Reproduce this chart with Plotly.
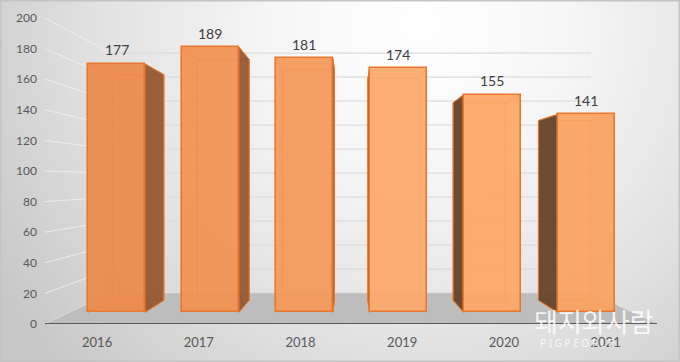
import base64
import plotly.graph_objects as go

# ---------------- data ----------------
years = ["2016", "2017", "2018", "2019", "2020", "2021"]
counts = [177, 189, 181, 174, 155, 141]
y_ticks = [0, 20, 40, 60, 80, 100, 120, 140, 160, 180, 200]

# ---------------- geometry / style constants ----------------
W, H = 680, 362
DOM_X0, DOM_X1 = 45, 657          # front floor edge (px)
DOM_Y0, DOM_Y1 = 18, 324          # value-axis span (px, top/bottom)
BAR0_PX, BAR_STEP = 116.5, 93.9   # front-plane bar centre / spacing (px)
FRONT_BASE, FRONT_K = 312.3, 1.403
VP_PX = (350, 181)                # vanishing point (px)
S_BACK, S_WALL, S_LABEL = 0.908, 0.785, 1.083
BAR_W = 57 / BAR_STEP

X_MIN = (DOM_X0 - BAR0_PX) / BAR_STEP
X_MAX = (DOM_X1 - BAR0_PX) / BAR_STEP
Y2_MIN = (FRONT_BASE - DOM_Y1) / FRONT_K
Y2_MAX = (FRONT_BASE - DOM_Y0) / FRONT_K
XV = (VP_PX[0] - BAR0_PX) / BAR_STEP
VV = (FRONT_BASE - VP_PX[1]) / FRONT_K

LX_MIN = XV + (X_MIN - XV) / S_LABEL
LX_MAX = XV + (X_MAX - XV) / S_LABEL

FRONT_COLORS = ["rgba(237,137,73,0.93)", "rgba(242,145,82,0.93)", "rgba(245,152,88,0.93)",
                "rgba(252,169,107,0.93)", "rgba(253,167,102,0.93)", "rgba(251,161,97,0.93)"]
EDGE = "#E8772F"
SIDE_RIGHT = "rgba(150,88,50,0.95)"
SIDE_LEFT = "rgba(104,70,45,0.97)"
FONT = "Lato"


def proj(x, v, s):
    return XV + s * (x - XV), VV + s * (v - VV)


def path(pts):
    return "M " + " L ".join(f"{x:.4f},{y:.4f}" for x, y in pts) + " Z"


shapes = []

# background wall gridlines (left wall slant + back wall)
for t in y_ticks:
    vf = Y2_MIN + (t - y_ticks[0]) / (y_ticks[-1] - y_ticks[0]) * (Y2_MAX - Y2_MIN)
    bl = proj(X_MIN, vf, S_WALL)
    br = proj(X_MAX, vf, S_WALL)
    shapes.append(dict(type="line", xref="x", yref="y2", x0=X_MIN, y0=vf, x1=bl[0], y1=bl[1],
                       line=dict(color="rgba(240,240,240,0.9)", width=1), layer="below"))
    shapes.append(dict(type="line", xref="x", yref="y2", x0=bl[0], y0=bl[1], x1=br[0], y1=br[1],
                       line=dict(color="#DCDCDC", width=1.3), layer="below"))

# floor
fl = [(X_MIN, Y2_MIN), proj(X_MIN, Y2_MIN, S_WALL), proj(X_MAX, Y2_MIN, S_WALL), (X_MAX, Y2_MIN)]
shapes.append(dict(type="path", xref="x", yref="y2", path=path(fl),
                   fillcolor="#BDBDBD", line=dict(width=0), layer="below"))
shapes.append(dict(type="line", xref="x", yref="y2", x0=X_MIN, y0=Y2_MIN, x1=X_MAX, y1=Y2_MIN,
                   line=dict(color="#5A5A5A", width=2.2), layer="below"))

# bar side faces and hidden edges
for i, v in enumerate(counts):
    xl, xr = i - BAR_W / 2, i + BAR_W / 2
    corners = {"tl": (xl, v), "tr": (xr, v), "br": (xr, 0), "bl": (xl, 0)}
    back = {k: proj(x, y, S_BACK) for k, (x, y) in corners.items()}
    for a, b in [("tl", "tr"), ("tr", "br"), ("br", "bl"), ("bl", "tl")]:
        shapes.append(dict(type="line", xref="x", yref="y2", x0=back[a][0], y0=back[a][1],
                           x1=back[b][0], y1=back[b][1], line=dict(color=EDGE, width=1), layer="below"))
    for k in corners:
        shapes.append(dict(type="line", xref="x", yref="y2", x0=corners[k][0], y0=corners[k][1],
                           x1=back[k][0], y1=back[k][1], line=dict(color=EDGE, width=1), layer="below"))
    if xr < XV:
        pts = [corners["tr"], back["tr"], back["br"], corners["br"]]
        shapes.append(dict(type="path", xref="x", yref="y2", path=path(pts), fillcolor=SIDE_RIGHT,
                           line=dict(color=EDGE, width=1), layer="below"))
    elif xl > XV:
        pts = [corners["tl"], back["tl"], back["bl"], corners["bl"]]
        shapes.append(dict(type="path", xref="x", yref="y2", path=path(pts), fillcolor=SIDE_LEFT,
                           line=dict(color=EDGE, width=1), layer="below"))

# thin border of the chart area
shapes.append(dict(type="rect", xref="paper", yref="paper", x0=0.001, y0=0.002, x1=0.999, y1=0.998,
                   line=dict(color="#C4C4C4", width=1.5), fillcolor="rgba(0,0,0,0)", layer="above"))

fig = go.Figure()
fig.add_trace(go.Bar(
    x=list(range(len(counts))), y=counts, xaxis="x", yaxis="y2", width=BAR_W,
    marker=dict(color=FRONT_COLORS, line=dict(color=EDGE, width=1.6)),
    hoverinfo="skip", showlegend=False,
))
fig.add_trace(go.Scatter(x=list(range(len(years))), y=[0] * len(years), xaxis="x2", yaxis="y",
                         mode="markers", marker=dict(opacity=0), hoverinfo="skip", showlegend=False))

annotations = []
for i, v in enumerate(counts):
    annotations.append(dict(x=i, y=v, xref="x", yref="y2", text=str(v), showarrow=False,
                            yanchor="middle", yshift=14,
                            font=dict(family=FONT, size=14, color="#404040")))

# watermark
annotations.append(dict(x=594 / W, y=1 - 320 / H, xref="paper", yref="paper", text="돼지와사람",
                        xanchor="center", yanchor="middle", showarrow=False,
                        font=dict(family="Noto Sans CJK KR", size=26, color="rgba(255,255,255,0.85)")))
annotations.append(dict(x=577 / W, y=1 - 343 / H, xref="paper", yref="paper",
                        text="P I G P E O P L E", xanchor="center", yanchor="middle", showarrow=False,
                        font=dict(family="Noto Sans", size=10, color="rgba(255,255,255,0.8)")))

svg = f'''<svg xmlns="http://www.w3.org/2000/svg" width="{W}" height="{H}">
<defs><radialGradient id="g" cx="420" cy="25" r="500" gradientUnits="userSpaceOnUse">
<stop offset="0" stop-color="#ffffff"/><stop offset="0.3" stop-color="#f6f6f6"/>
<stop offset="0.65" stop-color="#e1e1e1"/><stop offset="0.9" stop-color="#cecece"/>
<stop offset="1" stop-color="#c7c7c7"/></radialGradient></defs>
<rect width="{W}" height="{H}" fill="url(#g)"/></svg>'''
src = "data:image/svg+xml;base64," + base64.b64encode(svg.encode()).decode()

dom_x = [DOM_X0 / W, DOM_X1 / W]
dom_y = [1 - DOM_Y1 / H, 1 - DOM_Y0 / H]

fig.update_layout(
    width=W, height=H,
    margin=dict(l=0, r=0, t=0, b=0, pad=0),
    paper_bgcolor="#D8D8D8", plot_bgcolor="rgba(0,0,0,0)",
    showlegend=False,
    images=[dict(source=src, xref="paper", yref="paper", x=0, y=1, sizex=1, sizey=1,
                 sizing="stretch", xanchor="left", yanchor="top", layer="below")],
    xaxis=dict(domain=dom_x, range=[X_MIN, X_MAX], visible=False, fixedrange=True, automargin=False),
    xaxis2=dict(overlaying="x", anchor="y", side="bottom", range=[LX_MIN, LX_MAX],
                tickmode="array", tickvals=list(range(len(years))), ticktext=years,
                showgrid=False, zeroline=False, showline=False, ticks="", automargin=False,
                ticklabelstandoff=9, tickfont=dict(family=FONT, size=13, color="#595959")),
    yaxis=dict(domain=dom_y, range=[y_ticks[0], y_ticks[-1]], tickmode="array", tickvals=y_ticks,
               showgrid=False, zeroline=False, showline=False, ticks="", automargin=False,
               ticklabelstandoff=7, tickfont=dict(family=FONT, size=12, color="#595959")),
    yaxis2=dict(overlaying="y", anchor="x", range=[Y2_MIN, Y2_MAX], visible=False, automargin=False),
    shapes=shapes,
    annotations=annotations,
    bargap=0,
)

fig.write_html("out.html", config={"displayModeBar": False},
               post_script="document.body.style.margin='0';document.body.style.overflow='hidden';")
